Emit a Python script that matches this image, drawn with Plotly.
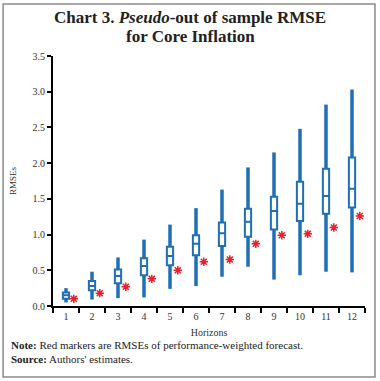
import plotly.graph_objects as go

horizons = [1, 2, 3, 4, 5, 6, 7, 8, 9, 10, 11, 12]
tick_labels = [str(h) for h in horizons]
lower = [0.05, 0.09, 0.11, 0.12, 0.24, 0.28, 0.41, 0.55, 0.37, 0.43, 0.48, 0.47]
q1 = [0.10, 0.22, 0.32, 0.43, 0.57, 0.71, 0.84, 0.97, 1.07, 1.19, 1.29, 1.38]
median = [0.15, 0.28, 0.42, 0.56, 0.70, 0.87, 1.02, 1.18, 1.33, 1.43, 1.54, 1.64]
q3 = [0.19, 0.35, 0.51, 0.67, 0.83, 0.99, 1.17, 1.36, 1.53, 1.74, 1.92, 2.08]
upper = [0.25, 0.48, 0.68, 0.93, 1.14, 1.37, 1.63, 1.94, 2.15, 2.48, 2.82, 3.03]
weighted = [0.10, 0.18, 0.27, 0.38, 0.50, 0.62, 0.65, 0.87, 0.99, 1.01, 1.10, 1.26]

blue = "#1f6fb5"
red = "#e8202a"
font_family = "Liberation Serif"

fig = go.Figure()

# whisker segments (thick)
wx, wy = [], []
for h, lo, a, b, hi in zip(horizons, lower, q1, q3, upper):
    wx += [h, h, None, h, h, None]
    wy += [lo, a, None, b, hi, None]

fig.add_trace(go.Box(
    x=horizons, q1=q1, median=median, q3=q3, lowerfence=q1, upperfence=q3,
    width=0.24, whiskerwidth=0, fillcolor="white",
    line=dict(color=blue, width=2), boxpoints=False, showlegend=False,
    hoverinfo="skip",
))
fig.add_trace(go.Scatter(
    x=wx, y=wy, mode="lines", line=dict(color=blue, width=3.5),
    showlegend=False, hoverinfo="skip",
))
fig.add_trace(go.Scatter(
    x=[h + 0.3 for h in horizons], y=weighted, mode="markers",
    marker=dict(symbol="asterisk-open", size=7, color=red, line=dict(color=red, width=1.5)),
    showlegend=False,
))

title_font = dict(family=font_family, size=17, color="#222222")

fig.update_layout(
    width=380, height=381,
    margin=dict(l=53, r=15, t=56, b=75),
    paper_bgcolor="white", plot_bgcolor="white",
    font=dict(family=font_family, color="#333333", size=10),
    xaxis=dict(
        range=[0.5, 12.5], tickmode="array", tickvals=horizons, ticktext=tick_labels,
        ticks="", showgrid=False, zeroline=False,
        showline=True, linecolor="black", linewidth=2,
        minor=dict(tickmode="linear", tick0=0.5, dtick=1, ticks="outside",
                   ticklen=5, tickwidth=2, tickcolor="black", showgrid=False),
        tickfont=dict(size=10, color="#333333"),
        title=dict(text="Horizons", font=dict(size=10, color="#333333"), standoff=8),
    ),
    yaxis=dict(
        range=[0, 3.5], tickmode="linear", tick0=0, dtick=0.5, tickformat=".1f",
        ticks="outside", ticklen=4, tickwidth=2, tickcolor="black",
        showgrid=False, zeroline=False,
        showline=True, linecolor="black", linewidth=2,
        tickfont=dict(size=10, color="#333333"),
        title=dict(text="RMSEs", font=dict(size=9, color="#333333"), standoff=14),
    ),
    shapes=[dict(
        type="rect", xref="paper", yref="paper",
        x0=-0.160, x1=1.032, y0=-0.284, y1=1.208,
        line=dict(color="#8a8a8a", width=1.5), fillcolor="rgba(0,0,0,0)", layer="below",
    )],
    annotations=[
        dict(text="<b>Chart 3. <i>Pseudo</i>-out of sample RMSE</b>",
             xref="paper", yref="paper", x=0.44, y=1.156, xanchor="center", yanchor="middle",
             showarrow=False, font=title_font),
        dict(text="<b>for Core Inflation</b>",
             xref="paper", yref="paper", x=0.44, y=1.076, xanchor="center", yanchor="middle",
             showarrow=False, font=title_font),
        dict(text="<b>Note:</b> Red markers are RMSEs of performance-weighted forecast.",
             xref="paper", yref="paper", x=-0.14, y=-0.156, xanchor="left", yanchor="middle",
             showarrow=False, font=dict(size=11, color="#222222")),
        dict(text="<b>Source:</b> Authors' estimates.",
             xref="paper", yref="paper", x=-0.14, y=-0.212, xanchor="left", yanchor="middle",
             showarrow=False, font=dict(size=11, color="#222222")),
    ],
)

fig.write_html("out.html", config={"displayModeBar": False},
               post_script="document.body.style.margin='0';")
